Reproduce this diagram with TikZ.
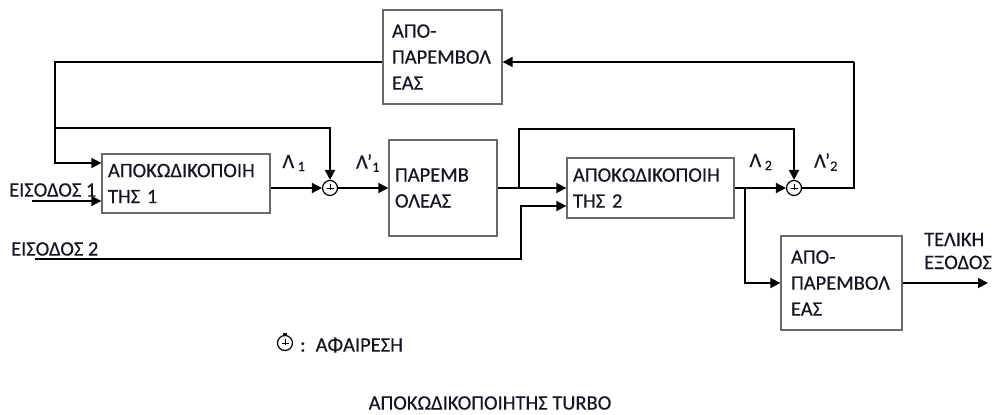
\documentclass[tikz,border=0pt]{standalone}
\usepackage{fontspec}
\setmainfont{Carlito}[FakeBold=0.35]
\usetikzlibrary{arrows.meta, positioning}
\hyphenpenalty=10000
\exhyphenpenalty=10000
\definecolor{boxgray}{RGB}{105,105,105}
\definecolor{inkdark}{RGB}{20,20,35}
\tikzset{
  dblock/.style={rectangle, draw=boxgray, line width=1.3pt,
    align=left, inner ysep=0pt, text=inkdark,
    font=\fontsize{20.5}{26}\selectfont},
  sumnode/.style={circle, draw=black, fill=white, line width=1.2pt,
    minimum size=15pt, inner sep=0pt,
    path picture={
      \draw[line width=0.6pt] ([xshift=-3.5pt]path picture bounding box.center)
        -- ([xshift=3.5pt]path picture bounding box.center);
      \draw[line width=0.6pt] ([yshift=4pt]path picture bounding box.center)
        -- ([yshift=-2pt]path picture bounding box.center);
      \fill ([yshift=-4pt]path picture bounding box.center) circle (0.8pt);}},
  lbl/.style={text=inkdark, inner sep=0pt,
    font=\fontsize{20.5}{23}\selectfont},
  arrow/.style={-{Triangle[length=10pt,width=10pt]}, line width=1.7pt},
  line/.style={line width=1.7pt}
}

\begin{document}
\begin{tikzpicture}[x=1pt, y=-1pt]
  \useasboundingbox (0,0) rectangle (996,415);

  % blocks
  \node[dblock, minimum width=119pt, minimum height=94pt, text width=101pt] (deintA) at (442.5,57) {ΑΠΟ-\\ΠΑΡΕΜΒΟΛ\\ΕΑΣ};
  \node[dblock, minimum width=168pt, minimum height=59pt, text width=156pt] (dec1) at (186,183.5) {ΑΠΟΚΩΔΙΚΟΠΟΙΗ\\ΤΗΣ 1};
  \node[dblock, minimum width=108pt, minimum height=96pt, text width=96pt] (inter) at (443,188) {ΠΑΡΕΜΒ\\ΟΛΕΑΣ};
  \node[dblock, minimum width=167pt, minimum height=60pt, text width=155pt] (dec2) at (650.5,188) {ΑΠΟΚΩΔΙΚΟΠΟΙΗ\\ΤΗΣ 2};
  \node[dblock, minimum width=121pt, minimum height=94pt, text width=101pt] (deintB) at (841.5,283) {ΑΠΟ-\\ΠΑΡΕΜΒΟΛ\\ΕΑΣ};

  \node[sumnode] (s1) at (330,188) {};
  \node[sumnode] (s2) at (794,188) {};

  % points of the wiring
  \coordinate (fbR) at (854,188);
  \coordinate (fbTop) at (854,62);
  \coordinate (inA) at (55,163);
  \coordinate (brA) at (55,128);
  \coordinate (in1) at (32,201);
  \coordinate (in2) at (35,259);
  \coordinate (in2c) at (521,206);
  \coordinate (brB) at (519,188);
  \coordinate (brBt) at (519,129);
  \coordinate (brC) at (745,188);
  \coordinate (out) at (988,283);

  % connectors
  \draw[arrow] (dec1.east |- s1) -- (s1.west);
  \draw[arrow] (s1.east) -- (inter.west |- s1);
  \draw[arrow] (inter.east |- brB) -- (dec2.west |- brB);
  \draw[arrow] (brB) -- (brBt) -| (s2.north);
  \draw[arrow] (dec2.east |- s2) -- (s2.west);
  \draw[arrow] (brC) |- (deintB.west);
  \draw[line] (s2.east) -- (fbR) -- (fbTop);
  \draw[arrow] (fbTop) -- (deintA.east |- fbTop);
  \draw[arrow] (deintA.west |- fbTop) -| (inA) -- (dec1.west |- inA);
  \draw[arrow] (brA) -| (s1.north);
  \draw[arrow] (in1) -- (dec1.west |- in1);
  \draw[arrow] (in2) -| (in2c) -- (dec2.west |- in2c);
  \draw[arrow] (deintB.east) -- (out);

  % labels
  \node[lbl] (l1) at (294,163) {Λ\,\textsubscript{1}};
  \node[lbl] (l1p) at (368,163) {Λ'\textsubscript{1}};
  \node[lbl] (l2) at (761,162) {Λ\,\textsubscript{2}};
  \node[lbl] (l2p) at (826,162) {Λ'\textsubscript{2}};
  \node[lbl, anchor=west] (lin1) at (9,190) {ΕΙΣΟΔΟΣ 1};
  \node[lbl, anchor=west] (lin2) at (11,249) {ΕΙΣΟΔΟΣ 2};
  \node[lbl, align=left, anchor=west] (lout) at (924,251) {ΤΕΛΙΚΗ\\ΕΞΟΔΟΣ};

  % legend and title
  \node[sumnode] (leg) at (285,343) {};
  \fill ([xshift=-2pt]leg.north) rectangle ([xshift=2pt, yshift=2pt]leg.north);
  \node[lbl, anchor=west] (legtxt) at (300,345) {:\hspace{10pt}ΑΦΑΙΡΕΣΗ};
  \node[lbl] (title) at (490,403) {ΑΠΟΚΩΔΙΚΟΠΟΙΗΤΗΣ TURBO};
\end{tikzpicture}
\end{document}
